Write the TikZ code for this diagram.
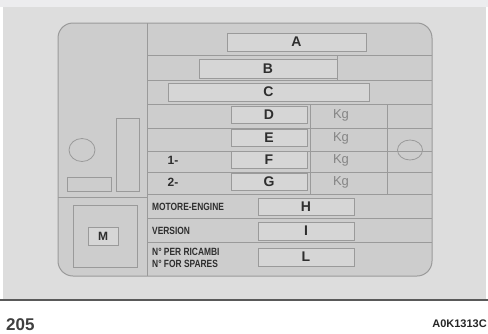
\documentclass[tikz,border=0pt]{standalone}
\usepackage{fontspec}
\setmainfont{Liberation Sans}
\usetikzlibrary{positioning}

\definecolor{topgray}{HTML}{ECECEE}
\definecolor{panelgray}{HTML}{DDDDDD}
\definecolor{plategray}{HTML}{CDCDCD}
\definecolor{fieldgray}{HTML}{D6D6D6}
\definecolor{lineg}{HTML}{9A9A9A}
\definecolor{txt}{HTML}{2E2E2E}
\definecolor{kggray}{HTML}{858585}

\begin{document}
\begin{tikzpicture}[
    x=1pt, y=-1pt,
    plate/.style={draw=lineg, fill=plategray, line width=1pt, rounded corners=15pt},
    field/.style={rectangle, draw=lineg, fill=fieldgray, line width=0.8pt, inner sep=0pt, text=txt, font=\bfseries\fontsize{14}{14}\selectfont},
    rule/.style={draw=lineg, line width=0.8pt},
    kg/.style={text=kggray, font=\fontsize{13}{13}\selectfont},
    num/.style={text=txt, font=\bfseries\fontsize{12}{12}\selectfont},
    tag/.style={anchor=west, inner sep=0pt, text=txt, font=\bfseries\fontsize{10.5}{11}\selectfont}
]

% Background
\useasboundingbox (0,0) rectangle (488,333);
\fill[white] (0,0) rectangle (488,333);
\fill[topgray] (0,0) rectangle (488,7);
\fill[panelgray] (3,7) rectangle (486,300);
\draw[black!65, line width=1.2pt] (0,300) -- (488,300);

% Plate
\draw[plate] (58,23) rectangle (432,276);
\draw[rule] (147,23) -- (147,276);

% Rows
\foreach \yy in {55,80,104,128,151,172,194,218,242}
    \draw[rule] (147,\yy) -- (432,\yy);
\draw[rule] (337,55) -- (337,80);
\draw[rule] (310,104) -- (310,194);
\draw[rule] (387,104) -- (387,194);

% Fields
\node[field, minimum width=139pt, minimum height=18pt] (fa) at (296.5,42) {A};
\node[field, minimum width=138pt, minimum height=19pt] (fb) at (268,68.5) {B};
\node[field, minimum width=201pt, minimum height=18pt] (fc) at (268.5,92) {C};
\node[field, minimum width=76pt, minimum height=17pt] (fd) at (269,114.5) {D};
\node[field, minimum width=76pt, minimum height=17pt] (fe) at (269,138) {E};
\node[field, minimum width=76pt, minimum height=17pt] (ff) at (269,160) {F};
\node[field, minimum width=76pt, minimum height=17pt] (fg) at (269,182) {G};
\node[field, minimum width=96pt, minimum height=17pt] (fh) at (306,206.5) {H};
\node[field, minimum width=96pt, minimum height=18pt] (fi) at (306,231) {I};
\node[field, minimum width=96pt, minimum height=18pt] (fl) at (306,257) {L};

% Weights
\node[kg] (kgd) at (341,115) {Kg};
\node[kg] (kge) at (341,138) {Kg};
\node[kg] (kgf) at (341,160) {Kg};
\node[kg] (kgg) at (341,182) {Kg};
\node[num] (axle1) at (173,160) {1-};
\node[num] (axle2) at (173,182) {2-};

% Row titles
\node[tag] (motor) at (152,206.5) {\scalebox{0.8}[1]{MOTORE-ENGINE}};
\node[tag] (version) at (152,231) {\scalebox{0.8}[1]{VERSION}};
\node[tag] (spare1) at (152,252) {\scalebox{0.8}[1]{N° PER RICAMBI}};
\node[tag] (spare2) at (152,263.5) {\scalebox{0.8}[1]{N° FOR SPARES}};

% Left column
\draw[rule] (82,150) ellipse (13 and 11.5);
\draw[rule] (410,150) ellipse (12.5 and 10);
\draw[rule] (116,118) rectangle (139,191);
\draw[rule] (67,177) rectangle (111,191);
\draw[rule] (58,197) -- (147,197);
\draw[rule] (73,205) rectangle (137,267);
\node[field, minimum width=30pt, minimum height=18pt, font=\bfseries\fontsize{12}{12}\selectfont] (fm) at (103,236) {M};

% Captions
\node[anchor=west, inner sep=0pt, text=black!75, font=\bfseries\fontsize{17}{17}\selectfont] (page) at (6,325) {205};
\node[anchor=east, inner sep=0pt, text=black!85, font=\bfseries\fontsize{11}{11}\selectfont] (code) at (487,324) {A0K1313C};

\end{tikzpicture}
\end{document}
